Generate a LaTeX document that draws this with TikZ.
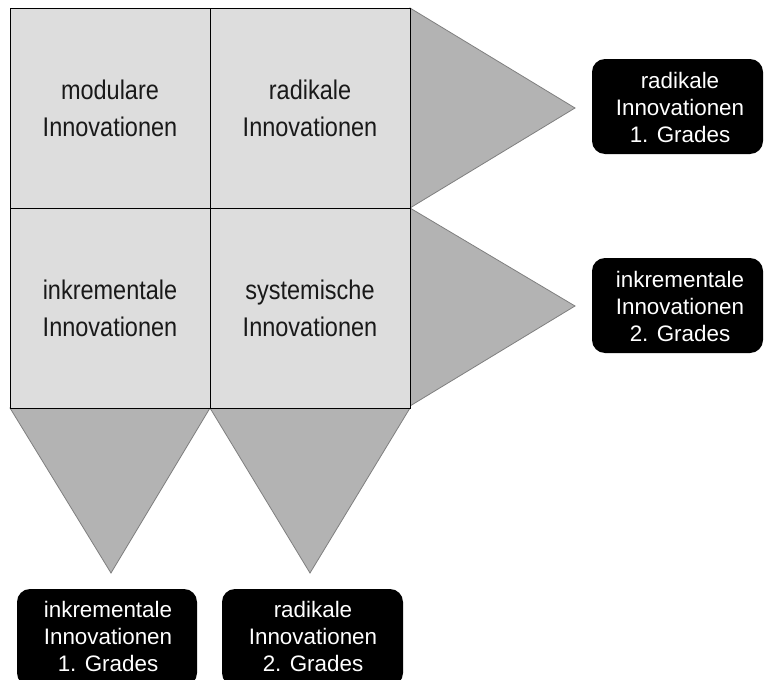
\documentclass[tikz,border=0pt]{standalone}
\usepackage{fontspec}
\newfontfamily\gridfont[FakeStretch=0.87]{Liberation Sans}
\newfontfamily\boxfont{Liberation Sans}
\definecolor{sqfill}{HTML}{DDDDDD}
\definecolor{trifill}{HTML}{B3B3B3}
\definecolor{triline}{HTML}{7F7F7F}
\begin{document}
\begin{tikzpicture}[x=1pt,y=-1pt,
  cell/.style={draw=black,line width=0.8pt,fill=sqfill,minimum width=200pt,minimum height=200pt,
    inner sep=0pt,align=center,font=\gridfont\fontsize{27pt}{37pt}\selectfont,text=black!90},
  tri/.style={fill=trifill,draw=triline,line width=0.8pt},
  blackbox/.style={fill=black,rounded corners=13pt},
  boxtext/.style={text=white,align=center,font=\boxfont\fontsize{22.4pt}{27pt}\selectfont,inner sep=0pt}]
\useasboundingbox (0,0) rectangle (764,680);
\clip (0,0) rectangle (764,680);
% triangles
\coordinate (t1a) at (410,8);
\coordinate (t1b) at (410,208);
\coordinate (t1c) at (575,108);
\coordinate (t2a) at (410,208);
\coordinate (t2b) at (410,406);
\coordinate (t2c) at (575,306);
\coordinate (b1a) at (10,408);
\coordinate (b1b) at (210,408);
\coordinate (b1c) at (111,573);
\coordinate (b2a) at (210,408);
\coordinate (b2b) at (410,408);
\coordinate (b2c) at (310,573);
\draw[tri] (t1a) -- (t1c) -- (t1b) -- cycle;
\draw[tri] (t2a) -- (t2c) -- (t2b) -- cycle;
\draw[tri] (b1a) -- (b1c) -- (b1b) -- cycle;
\draw[tri] (b2a) -- (b2c) -- (b2b) -- cycle;
% grid
\node[cell] (mod) at (110,108) {modulare\\Innovationen};
\node[cell] (rad) at (310,108) {radikale\\Innovationen};
\node[cell] (ink) at (110,308) {inkrementale\\Innovationen};
\node[cell] (sys) at (310,308) {systemische\\Innovationen};
% black boxes
\fill[blackbox] (592,59) rectangle (763,154);
\node[boxtext] (r1) at (680,107) {radikale\\Innovationen\\1. Grades};
\fill[blackbox] (592,258) rectangle (763,353);
\node[boxtext] (i2) at (680,306) {inkrementale\\Innovationen\\2. Grades};
\fill[blackbox] (17,589) rectangle (197,686);
\node[boxtext] (i1) at (108,636) {inkrementale\\Innovationen\\1. Grades};
\fill[blackbox] (222,589) rectangle (403,686);
\node[boxtext] (r2) at (313,636) {radikale\\Innovationen\\2. Grades};
\end{tikzpicture}
\end{document}
